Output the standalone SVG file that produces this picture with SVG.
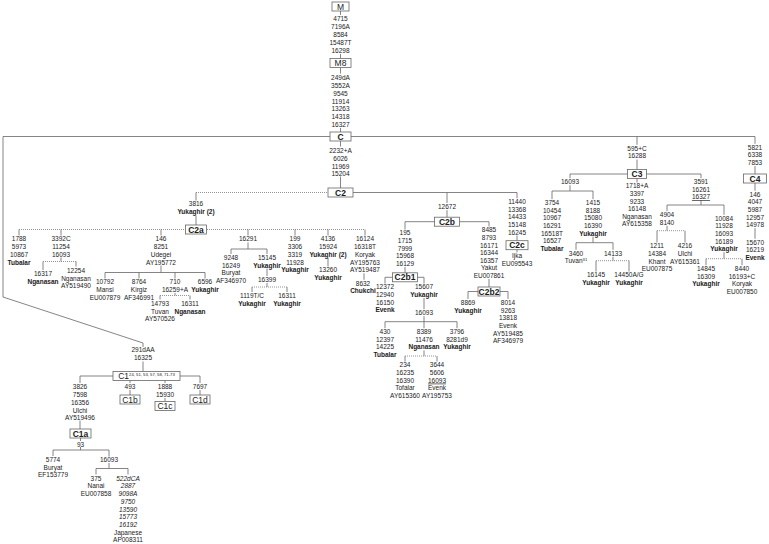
<svg xmlns="http://www.w3.org/2000/svg" width="769" height="544" viewBox="0 0 769 544">
<style>
text{font-family:"Liberation Sans",Arial,sans-serif;fill:#1a1a1a;text-anchor:middle}
.t{font-size:6.5px}
.b{font-weight:bold}
.i{font-style:italic}
.u{text-decoration:underline}
.hb{font-size:8.5px;font-weight:bold}
.hn{font-size:8.5px}
.bx{fill:#fff;stroke:#666;stroke-width:0.8}
.l{stroke:#666;stroke-width:0.8;fill:none}
.d{stroke:#888;stroke-width:0.9;stroke-dasharray:1 1;fill:none}
</style>
<rect width="769" height="544" fill="#fff"/>
<g id="connectors">
<path class="l" d="M340.5,11V15M340.5,54V58.5M340.5,67.5V73.5M340.5,128V132M340.5,141V146.5M340.5,176.5V188"/>
<path class="l" d="M3,136.5H755M3,136.5V297L143,343V347M143,361.5V371.5"/>
<path class="l" d="M80,376H200M80,376V383M130,380V383M165,380V383M200,376V383M130,390V395M165,398V401.5M200,390V395"/>
<path class="l" d="M80,420.5V429M80.5,438V441M80.5,447V450M53,450H109M53,450V456M109,450V456.5M109,463V468.5M96,468.5H128M96,468.5V474.5M128,468.5V474.5"/>
<path class="d" d="M196,192.5H328"/>
<path class="l" d="M353,192.5H517M196,192.5V200.5M196,215.5V225"/>
<path class="d" d="M19,229.5H365"/>
<path class="l" d="M19,229.5V235.5M61,229.5V235.5M161,229.5V235.5M248,229.5V235.5M295,229.5V235.5M328,229.5V235.5M365,229.5V235.5"/>
<path class="l" d="M61,257.5V261.5M43,261.5V270M76,261.5V266.5"/>
<path class="d" d="M43,261.5H76"/>
<path class="l" d="M161,265.5V272.5M105,272.5H205M105,272.5V278.5M139,272.5V278.5M175,272.5V278.5M205,272.5V278.5M175,293V295.5M160,295.5V299.5M190,295.5V299.5"/>
<path class="d" d="M160,295.5H190"/>
<path class="l" d="M248,242.5V249M231,249H267M231,249V254M267,249V254M267,268.5V276M267,283V287M252,287V292M287,287V292"/>
<path class="d" d="M252,287H287"/>
<path class="l" d="M328,258V266.5M364,273.3V279.8"/>
<path class="l" d="M447,192.5V203M447,210.2V217.2M405,221.7H489M405,221.7V229.5M489,221.7V226.5"/>
<path class="l" d="M405,267V272.8M385,277.3H424M385,277.3V283.5M424,277.3V283.5M424,298V309.2M424,316.2V321.7M385,321.7H457M385,321.7V328.2M424,321.7V328.2M457,321.7V328.2M424,350.4V356M405,356V361.5M437,356V361.5"/>
<path class="d" d="M405,356H437"/>
<path class="l" d="M489,279V287M468,291.5H508M468,291.5V299M508,291.5V299"/>
<path class="l" d="M517,192.5V198.2M517,235.6V240.7M517,249.7V252.5"/>
<path class="l" d="M637,136.5V144.8M637,159.5V169.5M570,174H701M570,174V178.2M570,185.2V191M552,191H593M552,191V199.2M593,191V199.2M637,178.5V182.5M701,174V178.2"/>
<path class="l" d="M593,236.6V242.7M576,242.7H613M576,242.7V249.8M613,242.7V249.8M613,256.8V260.7M596,260.7V271.5M629,260.7V271.5"/>
<path class="d" d="M596,260.7H629"/>
<path class="l" d="M701,200.4V205M667,205H724M667,205V211.2M724,205V214.8M667,225.8V230.7M657,230.7V242.5M685,230.7V242.5"/>
<path class="d" d="M657,230.7H685"/>
<path class="l" d="M724,252.2V258.7M706,258.7V265.2M742,258.7V265.2"/>
<path class="d" d="M706,258.7H742"/>
<path class="l" d="M755,136.5V143.8M755,166.1V174M755,183V190.8M755,228.2V238.8"/>
</g>
<g id="M"><rect class="bx" x="332" y="2" width="17" height="9"/><text class="hn" x="340.5" y="9.8">M</text></g>
<g id="M-mut"><text class="t" x="340.5" y="21.4"><tspan x="340.5">4715</tspan><tspan x="340.5" dy="7.9">7196A</tspan><tspan x="340.5" dy="7.9">8584</tspan><tspan x="340.5" dy="7.9">15487T</tspan><tspan x="340.5" dy="7.9">16298</tspan></text></g>
<g id="M8"><rect class="bx" x="330" y="58.5" width="21" height="9"/><text class="hn" x="340.5" y="66.3">M8</text></g>
<g id="M8-mut"><text class="t" x="340.5" y="80.1"><tspan x="340.5">249dA</tspan><tspan x="340.5" dy="7.8">3552A</tspan><tspan x="340.5" dy="7.8">9545</tspan><tspan x="340.5" dy="7.8">11914</tspan><tspan x="340.5" dy="7.8">13263</tspan><tspan x="340.5" dy="7.8">14318</tspan><tspan x="340.5" dy="7.8">16327</tspan></text></g>
<g id="C"><rect class="bx" x="330" y="132" width="21" height="9"/><text class="hb" x="340.5" y="139.6">C</text></g>
<g id="C2-mut"><text class="t" x="340.5" y="153.1"><tspan x="340.5">2232+A</tspan><tspan x="340.5" dy="7.7">6026</tspan><tspan x="340.5" dy="7.7">11969</tspan><tspan x="340.5" dy="7.7">15204</tspan></text></g>
<g id="C2"><rect class="bx" x="328" y="188" width="25" height="9"/><text class="hb" x="340.5" y="195.6">C2</text></g>
<g id="C2a-mut"><text class="t" x="196" y="206.4"><tspan x="196">3816</tspan><tspan x="196" dy="8" class="b">Yukaghir (2)</tspan></text></g>
<g id="C2a"><rect class="bx" x="185.5" y="225" width="21" height="9"/><text class="hb" x="196" y="232.6">C2a</text></g>
<g id="n1788"><text class="t" x="19" y="241.4"><tspan x="19">1788</tspan><tspan x="19" dy="7.7">5973</tspan><tspan x="19" dy="7.7">10867</tspan><tspan x="19" dy="7.7" class="b">Tubalar</tspan></text></g>
<g id="n3392C"><text class="t" x="61" y="241.4"><tspan x="61">3392C</tspan><tspan x="61" dy="7.7">11254</tspan><tspan x="61" dy="7.7">16093</tspan></text></g>
<g id="n16317"><text class="t" x="43" y="276.4"><tspan x="43">16317</tspan><tspan x="43" dy="7.7" class="b">Nganasan</tspan></text></g>
<g id="n12254"><text class="t" x="76" y="272.9"><tspan x="76">12254</tspan><tspan x="76" dy="7.7">Nganasan</tspan><tspan x="76" dy="7.7">AY519490</tspan></text></g>
<g id="n146"><text class="t" x="161" y="241.4"><tspan x="161">146</tspan><tspan x="161" dy="7.7">8251</tspan><tspan x="161" dy="7.7">Udegei</tspan><tspan x="161" dy="7.7">AY195772</tspan></text></g>
<g id="n10792"><text class="t" x="105" y="284.4"><tspan x="105">10792</tspan><tspan x="105" dy="7.7">Mansi</tspan><tspan x="105" dy="7.7">EU007879</tspan></text></g>
<g id="n8764"><text class="t" x="139" y="284.4"><tspan x="139">8764</tspan><tspan x="139" dy="7.7">Kirgiz</tspan><tspan x="139" dy="7.7">AF346991</tspan></text></g>
<g id="n710"><text class="t" x="175" y="284.4"><tspan x="175">710</tspan><tspan x="175" dy="7.7">16259+A</tspan></text></g>
<g id="n14793"><text class="t" x="160" y="305.9"><tspan x="160">14793</tspan><tspan x="160" dy="7.7">Tuvan</tspan><tspan x="160" dy="7.7">AY570526</tspan></text></g>
<g id="n16311a"><text class="t" x="190" y="305.9"><tspan x="190">16311</tspan><tspan x="190" dy="7.7" class="b">Nganasan</tspan></text></g>
<g id="n6596"><text class="t" x="205" y="284.4"><tspan x="205">6596</tspan><tspan x="205" dy="7.7" class="b">Yukaghir</tspan></text></g>
<g id="n16291"><text class="t" x="248" y="241.4">16291</text></g>
<g id="n9248"><text class="t" x="231" y="259.9"><tspan x="231">9248</tspan><tspan x="231" dy="7.7">16249</tspan><tspan x="231" dy="7.7">Buryat</tspan><tspan x="231" dy="7.7">AF346970</tspan></text></g>
<g id="n15145"><text class="t" x="267" y="259.9"><tspan x="267">15145</tspan><tspan x="267" dy="7.7" class="b">Yukaghir</tspan></text></g>
<g id="n16399"><text class="t" x="267" y="281.9">16399</text></g>
<g id="n1119"><text class="t" x="252" y="297.9"><tspan x="252">1119T/C</tspan><tspan x="252" dy="7.7" class="b">Yukaghir</tspan></text></g>
<g id="n16311b"><text class="t" x="287" y="297.9"><tspan x="287">16311</tspan><tspan x="287" dy="7.7" class="b">Yukaghir</tspan></text></g>
<g id="n199"><text class="t" x="295" y="241.4"><tspan x="295">199</tspan><tspan x="295" dy="7.7">3306</tspan><tspan x="295" dy="7.7">3319</tspan><tspan x="295" dy="7.7">11928</tspan><tspan x="295" dy="7.7" class="b">Yukaghir</tspan></text></g>
<g id="n4136"><text class="t" x="328" y="241.4"><tspan x="328">4136</tspan><tspan x="328" dy="7.7">15924</tspan><tspan x="328" dy="7.7" class="b">Yukaghir (2)</tspan></text></g>
<g id="n13260"><text class="t" x="328" y="272.4"><tspan x="328">13260</tspan><tspan x="328" dy="7.7" class="b">Yukaghir</tspan></text></g>
<g id="n16124"><text class="t" x="365" y="241.4"><tspan x="365">16124</tspan><tspan x="365" dy="7.7">16318T</tspan><tspan x="365" dy="7.7">Koryak</tspan><tspan x="365" dy="7.7">AY195763</tspan><tspan x="365" dy="7.7">AY519487</tspan></text></g>
<g id="n8632"><text class="t" x="363" y="285.7"><tspan x="363">8632</tspan><tspan x="363" dy="7.7" class="b">Chukchi</tspan></text></g>
<g id="n12672"><text class="t" x="447" y="209.1">12672</text></g>
<g id="C2b"><rect class="bx" x="434.5" y="217.2" width="25" height="9"/><text class="hb" x="447" y="224.8">C2b</text></g>
<g id="n195"><text class="t" x="405" y="235.4"><tspan x="405">195</tspan><tspan x="405" dy="7.6">1715</tspan><tspan x="405" dy="7.6">7999</tspan><tspan x="405" dy="7.6">15968</tspan><tspan x="405" dy="7.6">16129</tspan></text></g>
<g id="C2b1"><rect class="bx" x="392.5" y="272.8" width="25" height="9"/><text class="hb" x="405" y="280.4">C2b1</text></g>
<g id="n12372"><text class="t" x="385" y="289.4"><tspan x="385">12372</tspan><tspan x="385" dy="7.6">12940</tspan><tspan x="385" dy="7.6">16150</tspan><tspan x="385" dy="7.6" class="b">Evenk</tspan></text></g>
<g id="n15607"><text class="t" x="424" y="289.4"><tspan x="424">15607</tspan><tspan x="424" dy="7.6" class="b">Yukaghir</tspan></text></g>
<g id="n16093b"><text class="t" x="424" y="315.1">16093</text></g>
<g id="n430"><text class="t" x="385" y="334.1"><tspan x="385">430</tspan><tspan x="385" dy="7.6">12397</tspan><tspan x="385" dy="7.6">14225</tspan><tspan x="385" dy="7.6" class="b">Tubalar</tspan></text></g>
<g id="n8389"><text class="t" x="424" y="334.1"><tspan x="424">8389</tspan><tspan x="424" dy="7.6">11476</tspan><tspan x="424" dy="7.6" class="b">Nganasan</tspan></text></g>
<g id="n3796"><text class="t" x="457" y="334.1"><tspan x="457">3796</tspan><tspan x="457" dy="7.6">8281d9</tspan><tspan x="457" dy="7.6" class="b">Yukaghir</tspan></text></g>
<g id="n234"><text class="t" x="405" y="367.4"><tspan x="405">234</tspan><tspan x="405" dy="7.6">16235</tspan><tspan x="405" dy="7.6">16390</tspan><tspan x="405" dy="7.6">Tofalar</tspan><tspan x="405" dy="7.6">AY615360</tspan></text></g>
<g id="n3644"><text class="t" x="437" y="367.4"><tspan x="437">3644</tspan><tspan x="437" dy="7.6">5606</tspan><tspan x="437" dy="7.6" class="u">16093</tspan><tspan x="437" dy="7.6">Evenk</tspan><tspan x="437" dy="7.6">AY195753</tspan></text></g>
<g id="n8485"><text class="t" x="489" y="232.4"><tspan x="489">8485</tspan><tspan x="489" dy="7.6">8793</tspan><tspan x="489" dy="7.6">16171</tspan><tspan x="489" dy="7.6">16344</tspan><tspan x="489" dy="7.6">16357</tspan><tspan x="489" dy="7.6">Yakut</tspan><tspan x="489" dy="7.6">EU007861</tspan></text></g>
<g id="C2b2"><rect class="bx" x="478" y="287" width="22" height="9"/><text class="hb" x="489" y="294.6">C2b2</text></g>
<g id="n8869"><text class="t" x="468" y="305.1"><tspan x="468">8869</tspan><tspan x="468" dy="7.6" class="b">Yukaghir</tspan></text></g>
<g id="n8014"><text class="t" x="508" y="305.1"><tspan x="508">8014</tspan><tspan x="508" dy="7.6">9263</tspan><tspan x="508" dy="7.6">13818</tspan><tspan x="508" dy="7.6">Evenk</tspan><tspan x="508" dy="7.6">AY519485</tspan><tspan x="508" dy="7.6">AF346979</tspan></text></g>
<g id="n11440"><text class="t" x="517" y="204.1"><tspan x="517">11440</tspan><tspan x="517" dy="7.6">13368</tspan><tspan x="517" dy="7.6">14433</tspan><tspan x="517" dy="7.6">15148</tspan><tspan x="517" dy="7.6">16245</tspan></text></g>
<g id="C2c"><rect class="bx" x="506" y="240.7" width="22" height="9"/><text class="hb" x="517" y="248.3">C2c</text></g>
<g id="nIjka"><text class="t" x="517" y="258.4"><tspan x="517">Ijka</tspan><tspan x="517" dy="7.6">EU095543</tspan></text></g>
<g id="n595C"><text class="t" x="637" y="150.7"><tspan x="637">595+C</tspan><tspan x="637" dy="7.7">16288</tspan></text></g>
<g id="C3"><rect class="bx" x="627.5" y="169.5" width="19" height="9"/><text class="hb" x="637" y="177.1">C3</text></g>
<g id="n16093c"><text class="t" x="570" y="184.1">16093</text></g>
<g id="n3754"><text class="t" x="552" y="205.1"><tspan x="552">3754</tspan><tspan x="552" dy="7.6">10454</tspan><tspan x="552" dy="7.6">10967</tspan><tspan x="552" dy="7.6">16291</tspan><tspan x="552" dy="7.6">16518T</tspan><tspan x="552" dy="7.6">16527</tspan><tspan x="552" dy="7.6" class="b">Tubalar</tspan></text></g>
<g id="n1415"><text class="t" x="593" y="205.1"><tspan x="593">1415</tspan><tspan x="593" dy="7.6">8188</tspan><tspan x="593" dy="7.6">15080</tspan><tspan x="593" dy="7.6">16390</tspan><tspan x="593" dy="7.6" class="b">Yukaghir</tspan></text></g>
<g id="n3460"><text class="t" x="576" y="255.7">3460</text><text class="t" x="576" y="263.4">Tuvan<tspan font-size="4.2" dy="-2.6">31</tspan></text></g>
<g id="n14133"><text class="t" x="613" y="255.7">14133</text></g>
<g id="n16145"><text class="t" x="596" y="277.4"><tspan x="596">16145</tspan><tspan x="596" dy="7.6" class="b">Yukaghir</tspan></text></g>
<g id="n14450"><text class="t" x="629" y="277.4"><tspan x="629">14450A/G</tspan><tspan x="629" dy="7.6" class="b">Yukaghir</tspan></text></g>
<g id="n1718"><text class="t" x="637" y="188.4"><tspan x="637">1718+A</tspan><tspan x="637" dy="7.6">3397</tspan><tspan x="637" dy="7.6">9233</tspan><tspan x="637" dy="7.6">16148</tspan><tspan x="637" dy="7.6">Nganasan</tspan><tspan x="637" dy="7.6">AY615358</tspan></text></g>
<g id="n3591"><text class="t" x="701" y="184.1"><tspan x="701">3591</tspan><tspan x="701" dy="7.6">16261</tspan><tspan x="701" dy="7.6" class="u">16327</tspan></text></g>
<g id="n4904"><text class="t" x="667" y="217.1"><tspan x="667">4904</tspan><tspan x="667" dy="7.6">8140</tspan></text></g>
<g id="n1211"><text class="t" x="657" y="248.4"><tspan x="657">1211</tspan><tspan x="657" dy="7.6">14384</tspan><tspan x="657" dy="7.6">Khant</tspan><tspan x="657" dy="7.6">EU007875</tspan></text></g>
<g id="n4216"><text class="t" x="685" y="248.4"><tspan x="685">4216</tspan><tspan x="685" dy="7.6">Ulchi</tspan><tspan x="685" dy="7.6">AY615361</tspan></text></g>
<g id="n10084"><text class="t" x="724" y="220.7"><tspan x="724">10084</tspan><tspan x="724" dy="7.6">11928</tspan><tspan x="724" dy="7.6">16093</tspan><tspan x="724" dy="7.6">16189</tspan><tspan x="724" dy="7.6" class="b">Yukaghir</tspan></text></g>
<g id="n14845"><text class="t" x="706" y="271.1"><tspan x="706">14845</tspan><tspan x="706" dy="7.6">16309</tspan><tspan x="706" dy="7.6" class="b">Yukaghir</tspan></text></g>
<g id="n8440"><text class="t" x="742" y="271.1"><tspan x="742">8440</tspan><tspan x="742" dy="7.6">16193+C</tspan><tspan x="742" dy="7.6">Koryak</tspan><tspan x="742" dy="7.6">EU007850</tspan></text></g>
<g id="n5821"><text class="t" x="755" y="149.7"><tspan x="755">5821</tspan><tspan x="755" dy="7.6">6338</tspan><tspan x="755" dy="7.6">7853</tspan></text></g>
<g id="C4"><rect class="bx" x="743.5" y="174" width="23" height="9"/><text class="hb" x="755" y="181.6">C4</text></g>
<g id="n146c4"><text class="t" x="755" y="196.7"><tspan x="755">146</tspan><tspan x="755" dy="7.6">4047</tspan><tspan x="755" dy="7.6">5987</tspan><tspan x="755" dy="7.6">12957</tspan><tspan x="755" dy="7.6">14978</tspan></text></g>
<g id="n15670"><text class="t" x="755" y="244.7"><tspan x="755">15670</tspan><tspan x="755" dy="7.6">16219</tspan><tspan x="755" dy="7.6" class="b">Evenk</tspan></text></g>
<g id="n291"><text class="t" x="143" y="352.4"><tspan x="143">291dAA</tspan><tspan x="143" dy="7.7">16325</tspan></text></g>
<g id="C1"><rect class="bx" x="113" y="371.5" width="67" height="9"/><text class="hn" x="146.5" y="379">C1<tspan font-size="4.2" dy="-2.8">24, 51, 53, 57, 58, 71-73</tspan></text></g>
<g id="n3826"><text class="t" x="80" y="389.4"><tspan x="80">3826</tspan><tspan x="80" dy="7.7">7598</tspan><tspan x="80" dy="7.7">16356</tspan><tspan x="80" dy="7.7">Ulchi</tspan><tspan x="80" dy="7.7">AY519496</tspan></text></g>
<g id="C1a"><rect class="bx" x="70" y="429" width="21" height="9"/><text class="hb" x="80.5" y="436.6">C1a</text></g>
<g id="n93"><text class="t" x="80.5" y="446.9">93</text></g>
<g id="n5774"><text class="t" x="53" y="461.9"><tspan x="53">5774</tspan><tspan x="53" dy="7.6">Buryat</tspan><tspan x="53" dy="7.6">EF153779</tspan></text></g>
<g id="n16093d"><text class="t" x="109" y="462.4">16093</text></g>
<g id="n375"><text class="t" x="96" y="480.7"><tspan x="96">375</tspan><tspan x="96" dy="7.7">Nanai</tspan><tspan x="96" dy="7.7">EU007858</tspan></text></g>
<g id="n522"><text class="t" x="128" y="480.7"><tspan x="128" class="i">522dCA</tspan><tspan x="128" dy="7.7" class="i">2887</tspan><tspan x="128" dy="7.7" class="i">9098A</tspan><tspan x="128" dy="7.7" class="i">9750</tspan><tspan x="128" dy="7.7" class="i">13590</tspan><tspan x="128" dy="7.7" class="i">15773</tspan><tspan x="128" dy="7.7" class="i">16192</tspan><tspan x="128" dy="7.7">Japanese</tspan><tspan x="128" dy="7.7">AP008311</tspan></text></g>
<g id="n493"><text class="t" x="130" y="389.4">493</text></g>
<g id="C1b"><rect class="bx" x="120" y="395" width="20" height="9"/><text class="hn" x="130" y="402.6">C1b</text></g>
<g id="n1888"><text class="t" x="165" y="389.4"><tspan x="165">1888</tspan><tspan x="165" dy="7.7">15930</tspan></text></g>
<g id="C1c"><rect class="bx" x="155" y="401.5" width="20" height="9"/><text class="hn" x="165" y="409.1">C1c</text></g>
<g id="n7697"><text class="t" x="200" y="389.4">7697</text></g>
<g id="C1d"><rect class="bx" x="190" y="395" width="20" height="9"/><text class="hn" x="200" y="402.6">C1d</text></g>
</svg>
